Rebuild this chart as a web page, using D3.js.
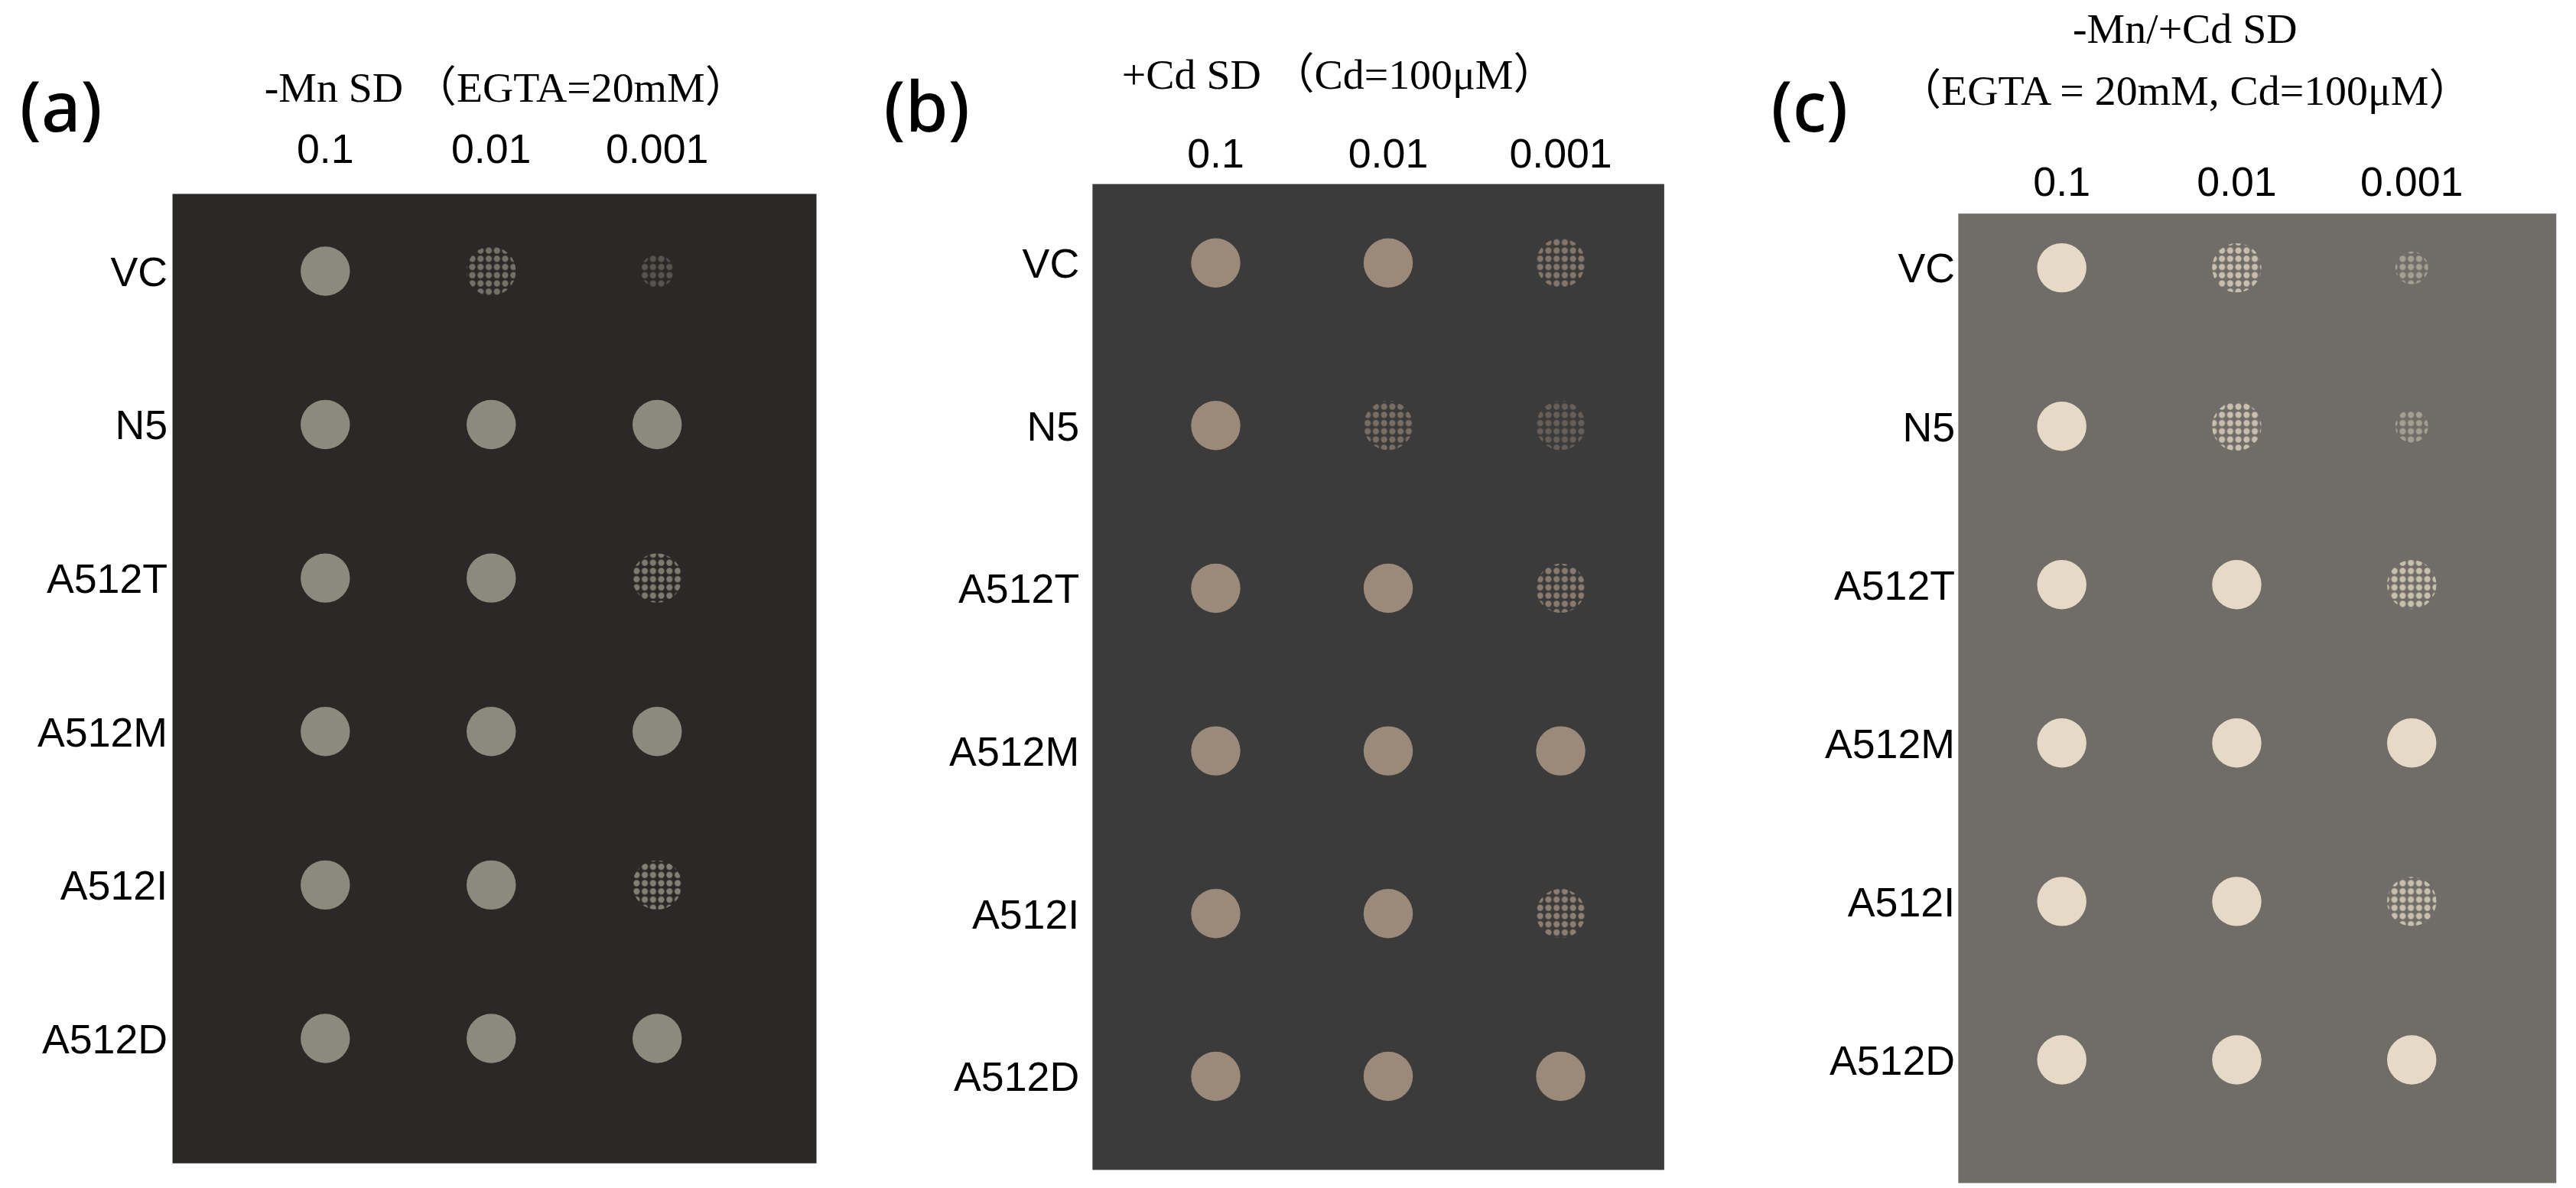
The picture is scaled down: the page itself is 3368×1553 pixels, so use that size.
<!DOCTYPE html>
<html><head><meta charset="utf-8">
<script src="https://cdn.jsdelivr.net/npm/d3@7"></script>
<style>body{margin:0;background:#fff}</style>
</head><body>
<svg id="fig" width="3368" height="1553"></svg>
<script>
// strains (rows) and dilutions (columns)
const strains = ["VC","N5","A512T","A512M","A512I","A512D"];
const dilutions = ["0.1","0.01","0.001"];
const panelIds = ["(a)","(b)","(c)"];
const panelTitles = [["-Mn SD \uff08EGTA=20mM\uff09"],["+Cd SD \uff08Cd=100\u03bcM\uff09"],["-Mn/+Cd SD","\uff08EGTA = 20mM, Cd=100\u03bcM\uff09"]];
// growth per spot, 1 = full lawn, lower = sparse colonies
const growthA = [[1,0.75,0.2],[1,1,1],[1,1,0.85],[1,1,1],[1,1,0.9],[1,1,1]];
const growthB = [[1,1,0.75],[1,0.65,0.45],[1,1,0.8],[1,1,1],[1,1,0.85],[1,1,1]];
const growthC = [[1,0.75,0.2],[1,0.75,0.15],[1,1,0.75],[1,1,0.95],[1,1,0.75],[1,1,0.95]];

const k = 3368/1568;
const svg = d3.select("#fig").append("g").attr("transform", `scale(${k})`);

// layout per panel (in 1568-wide units)
const panels = [
  {g: growthA, plate:[105,118,392,590], bg:"#2a2927", spot:"#8c8a7c", cols:[198,400], rows:[165,632], labX:102, colY:99, idX:12, idY:80, titleX:308, titleY:[62]},
  {g: growthB, plate:[665,112,348,600], bg:"#3b3b3b", spot:"#9b8a7a", cols:[740,950], rows:[160,655], labX:657, colY:102, idX:538, idY:80, titleX:815, titleY:[54]},
  {g: growthC, plate:[1192,130,364,590], bg:"#706c67", spot:"#e6dac6", cols:[1255,1468], rows:[163,645], labX:1190, colY:119, idX:1078, idY:80, titleX:1330, titleY:[26,64]}
];

const defs = svg.append("defs");
panels.forEach((p,i)=>{
  const pat = defs.append("pattern").attr("id","spk"+i).attr("width",5).attr("height",5)
    .attr("patternUnits","userSpaceOnUse");
  pat.append("circle").attr("cx",2.5).attr("cy",2.5).attr("r",1.9).attr("fill",p.spot);
});

panels.forEach((p,i)=>{
  const x = d3.scalePoint().domain(dilutions).range(p.cols);
  const y = d3.scalePoint().domain(strains).range(p.rows);
  const g = svg.append("g");
  g.append("rect").attr("x",p.plate[0]).attr("y",p.plate[1]).attr("width",p.plate[2]).attr("height",p.plate[3]).attr("fill",p.bg);
  g.append("text").attr("x",p.idX).attr("y",p.idY).text(panelIds[i])
    .attr("font-family","Noto Sans").attr("font-size",42).attr("font-weight",500);
  panelTitles[i].forEach((t,j)=>{
    g.append("text").attr("x",p.titleX).attr("y",p.titleY[j]).attr("text-anchor","middle")
      .attr("font-family","Liberation Serif, Noto Sans CJK SC").attr("font-size",26).attr("xml:space","preserve").text(t);
  });
  g.selectAll(".col").data(dilutions).join("text")
    .attr("x",d=>x(d)).attr("y",p.colY).attr("text-anchor","middle")
    .attr("font-family","Liberation Sans").attr("font-size",25).text(d=>d);
  g.selectAll(".row").data(strains).join("text")
    .attr("x",p.labX).attr("y",d=>y(d)+9).attr("text-anchor","end")
    .attr("font-family","Liberation Sans").attr("font-size",25).text(d=>d);
  const cells = [];
  strains.forEach((s,r)=>dilutions.forEach((d,c)=>cells.push({s,d,v:p.g[r][c]})));
  g.selectAll(".spot").data(cells).join("circle")
    .attr("cx",d=>x(d.d)).attr("cy",d=>y(d.s)).attr("r",d=>d.v<0.3?10:15)
    .attr("fill",d=>d.v>=0.95?p.spot:`url(#spk${i})`)
    .attr("opacity",d=>d.v>=0.95?1:Math.max(0.45,d.v));
});
</script>
</body></html>
